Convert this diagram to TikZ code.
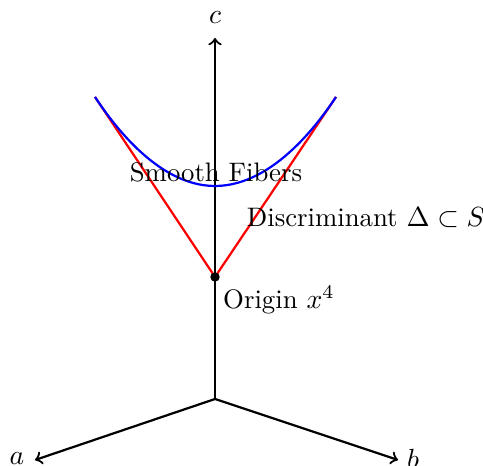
\documentclass[tikz,border=0pt]{standalone}
\begin{document}
\begin{tikzpicture}[x=0.3611pt,y=-0.3611pt,
  axis/.style={thick,->},
  curve/.style={thick},
  every node/.append style={font=\fontsize{9.66}{11.6}\selectfont}]
\useasboundingbox (0,0) rectangle (483,466);
\coordinate (O) at (215,399);
\coordinate (C) at (215,38);
\coordinate (A) at (35,460);
\coordinate (B) at (398,460);
\coordinate (L) at (95,97);
\coordinate (R) at (336,97);
\coordinate (V) at (215,186);
\node (lc) at (215,18) {$c$};
\node (la) at (17,459) {$a$};
\node (lb) at (413,459) {$b$};
\draw[axis] (O) -- (C);
\draw[axis] (O) -- (A);
\draw[axis] (O) -- (B);
\draw[curve,red] (L) -- (215,277) -- (R);
\node[circle,fill,inner sep=0pt,minimum size=3.4pt] (dot) at (215,277) {};
\draw[curve,blue] (L) parabola bend (V) (R);
\node (sf) at (216,172) {Smooth Fibers};
\node (disc) at (366,218) {Discriminant $\Delta\subset S$};
\node (orig) at (279,300) {Origin $x^4$};
\end{tikzpicture}
\end{document}
